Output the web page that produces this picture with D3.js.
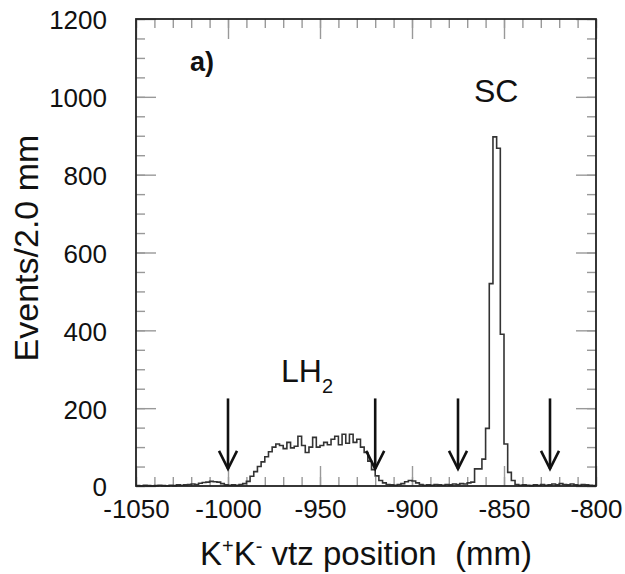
<!DOCTYPE html>
<head>
<meta charset="utf-8">
<title>K+K- vertex z</title>
<script src="https://d3js.org/d3.v7.min.js"></script>
<style>
  body { margin: 0; background: #fff; }
  text { font-family: "Liberation Sans", Arial, sans-serif; fill: #111; }
</style>
</head>
<body>
<div id="chart"></div>
<script>

// histogram: 2 mm bins starting at -1050
var binStart = -1050, binWidth = 2;
var counts = [
  1,0,2,1,0,1,2,1,0,2,1,3,2,
  3,4,5,4,7,9,10,12,11,10,6,3,2,3,2,4,6,
  12,25,37,50,62,75,88,100,108,104,96,112,98,102,128,104,86,100,125,100,
  104,112,106,120,128,106,133,110,133,112,120,100,86,64,42,26,14,8,4,
  3,2,4,6,11,14,13,8,4,2,3,2,4,3,2,4,3,5,4,6,5,8,10,
  44,44,69,148,520,897,868,390,108,35,14,4,2,
  3,2,1,3,2,4,2,3,5,3,6,4,3,5,3,2,4,3,2,1
];
var xTicks = [-1050, -1000, -950, -900, -850, -800];
var yTicks = [0, 200, 400, 600, 800, 1000, 1200];
var arrowsAt = [-1000, -920, -875, -825];
var arrowTop = 225, arrowTip = 44;

var W = 625, H = 574;
var L = 136, R = 596, T = 19, B = 486;

var svg = d3.select("#chart").append("svg")
    .attr("width", W)
    .attr("height", H);

var x = d3.scaleLinear().domain([-1050, -800]).range([L, R]);
var y = d3.scaleLinear().domain([0, 1200]).range([B, T]);

var xMinor = d3.range(-1050, -799, 10);
var yMinor = d3.range(0, 1201, 50);
var plain = function(d) { return String(d); };

function tickStyle(g) {
  g.select(".domain").remove();
  g.selectAll(".tick line").attr("stroke", "#999").attr("stroke-width", 1.4);
}

// minor ticks, all four sides
svg.append("g").attr("transform", "translate(0," + B + ")")
  .call(d3.axisBottom(x).tickValues(xMinor).tickSize(-9).tickFormat(""))
  .call(tickStyle);
svg.append("g").attr("transform", "translate(0," + T + ")")
  .call(d3.axisTop(x).tickValues(xMinor).tickSize(-9).tickFormat(""))
  .call(tickStyle);
svg.append("g").attr("transform", "translate(" + L + ",0)")
  .call(d3.axisLeft(y).tickValues(yMinor).tickSize(-9).tickFormat(""))
  .call(tickStyle);
svg.append("g").attr("transform", "translate(" + R + ",0)")
  .call(d3.axisRight(y).tickValues(yMinor).tickSize(-9).tickFormat(""))
  .call(tickStyle);

// major ticks
var xAxis = svg.append("g").attr("transform", "translate(0," + B + ")")
  .call(d3.axisBottom(x).tickValues(xTicks).tickSize(-20).tickPadding(14).tickFormat(plain))
  .call(tickStyle);
svg.append("g").attr("transform", "translate(0," + T + ")")
  .call(d3.axisTop(x).tickValues(xTicks).tickSize(-20).tickFormat(""))
  .call(tickStyle);
var yAxis = svg.append("g").attr("transform", "translate(" + L + ",0)")
  .call(d3.axisLeft(y).tickValues(yTicks).tickSize(-20).tickPadding(29).tickFormat(plain))
  .call(tickStyle);
svg.append("g").attr("transform", "translate(" + R + ",0)")
  .call(d3.axisRight(y).tickValues(yTicks).tickSize(-20).tickFormat(""))
  .call(tickStyle);

xAxis.selectAll("text").style("font-size", "26px").attr("fill", "#111")
  .style("font-family", "Liberation Sans, Arial, sans-serif");
yAxis.selectAll("text").style("font-size", "26px").attr("fill", "#111")
  .attr("dy", "0.38em")
  .style("font-family", "Liberation Sans, Arial, sans-serif");

// histogram outline
var pts = counts.map(function(c, i) { return [binStart + i * binWidth, c]; });
pts.push([binStart + counts.length * binWidth, counts[counts.length - 1]]);

svg.append("path")
  .datum(pts)
  .attr("fill", "none")
  .attr("stroke", "#333")
  .attr("stroke-width", 1.6)
  .attr("d", d3.line()
    .x(function(d) { return x(d[0]); })
    .y(function(d) { return y(d[1]); })
    .curve(d3.curveStepAfter));

// frame
svg.append("rect")
  .attr("x", L).attr("y", T)
  .attr("width", R - L).attr("height", B - T)
  .attr("fill", "none")
  .attr("stroke", "#222")
  .attr("stroke-width", 1.8);

// arrows
var arr = svg.append("g").attr("stroke", "#111").attr("stroke-width", 2.6).attr("fill", "none");
arrowsAt.forEach(function(a) {
  var ax = x(a), y0 = y(arrowTop), y1 = y(arrowTip);
  arr.append("line").attr("x1", ax).attr("x2", ax).attr("y1", y0).attr("y2", y1);
  arr.append("path").attr("d", "M" + (ax - 9) + "," + (y1 - 18) + "L" + ax + "," + y1 + "L" + (ax + 9) + "," + (y1 - 18));
});

// labels
svg.append("text").attr("x", 190).attr("y", 71)
  .style("font-size", "27px").style("font-weight", "bold").text("a)");

svg.append("text").attr("x", 474).attr("y", 102)
  .style("font-size", "32px").text("SC");

var lh = svg.append("text").attr("x", 281).attr("y", 382).style("font-size", "32px");
lh.append("tspan").text("LH");
lh.append("tspan").attr("dy", 11).style("font-size", "20px").text("2");

svg.append("text")
  .attr("transform", "translate(38,248) rotate(-90)")
  .attr("text-anchor", "middle")
  .style("font-size", "34px")
  .text("Events/2.0 mm");

var xt = svg.append("text").attr("x", 366).attr("y", 565)
  .attr("text-anchor", "middle")
  .style("font-size", "33px")
  .style("white-space", "pre");
xt.append("tspan").text("K");
xt.append("tspan").attr("dy", -12).style("font-size", "20px").text("+");
xt.append("tspan").attr("dy", 12).text("K");
xt.append("tspan").attr("dy", -12).style("font-size", "20px").text("-");
xt.append("tspan").attr("dy", 12).text(" vtz position  (mm)");

</script>
</body>
